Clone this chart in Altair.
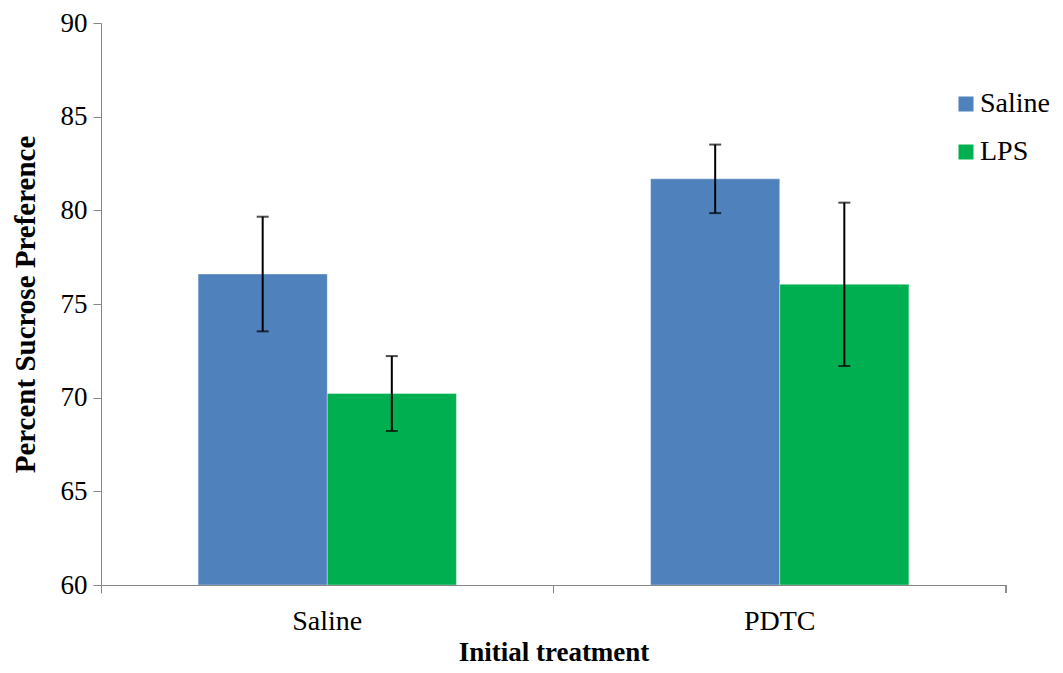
import altair as alt
import pandas as pd

groups = ["Saline", "Saline", "PDTC", "PDTC"]
series = ["Saline", "LPS", "Saline", "LPS"]
values = [76.6, 70.22, 81.68, 76.05]
errors = [3.06, 2.0, 1.83, 4.36]

group_order = ["Saline", "PDTC"]
series_order = ["Saline", "LPS"]
colors = ["#4F81BD", "#00B050"]

df = pd.DataFrame({"group": groups, "series": series, "value": values, "err": errors})
df["lo"] = df["value"] - df["err"]
df["hi"] = df["value"] + df["err"]

W, H = 905, 562
FONT = "Liberation Serif"

x_enc = alt.X("group:N", sort=group_order,
              scale=alt.Scale(paddingInner=0, paddingOuter=0),
              axis=alt.Axis(title="Initial treatment", labelAngle=0, bandPosition=0,
                            labelFontSize=28, labelFont=FONT, labelColor="black",
                            titleFontSize=27, titleFont=FONT, titleFontWeight="bold",
                            titleColor="black", titlePadding=4,
                            domainColor="#868686", tickColor="#868686", tickSize=8,
                            labelPadding=14))
xoff = alt.XOffset("series:N", sort=series_order,
                   scale=alt.Scale(paddingInner=0, paddingOuter=0.752))

y_scale = alt.Scale(domain=[60, 90], nice=False, zero=False)

bars = alt.Chart(df).mark_bar(clip=True, stroke="white", strokeWidth=0.6, strokeOpacity=0.6).encode(
    x=x_enc,
    xOffset=xoff,
    y=alt.Y("value:Q", scale=y_scale,
            axis=alt.Axis(title="Percent Sucrose Preference", values=[60, 65, 70, 75, 80, 85, 90],
                          grid=False, labelFontSize=27, labelFont=FONT, labelColor="black",
                          titleFontSize=29, titleFont=FONT, titleFontWeight="bold",
                          titleColor="black", titlePadding=20,
                          domainColor="#868686", tickColor="#868686", tickSize=8,
                          labelPadding=6)),
    y2=alt.datum(60),
    color=alt.Color("series:N", sort=series_order,
                    scale=alt.Scale(domain=series_order, range=colors),
                    legend=alt.Legend(title=None, orient="none", legendX=851, legendY=67,
                                      symbolType="square", symbolSize=225,
                                      symbolStrokeWidth=0, labelFont=FONT,
                                      labelFontSize=28, labelColor="black",
                                      rowPadding=20, labelOffset=0)),
)

rules = alt.Chart(df).mark_rule(color="black", strokeWidth=2).encode(
    x=alt.X("group:N", sort=group_order), xOffset=xoff,
    y=alt.Y("lo:Q", scale=y_scale), y2="hi:Q",
)
cap_lo = alt.Chart(df).mark_tick(color="black", thickness=2, size=12).encode(
    x=alt.X("group:N", sort=group_order), xOffset=xoff,
    y=alt.Y("lo:Q", scale=y_scale),
)
cap_hi = alt.Chart(df).mark_tick(color="black", thickness=2, size=12).encode(
    x=alt.X("group:N", sort=group_order), xOffset=xoff,
    y=alt.Y("hi:Q", scale=y_scale),
)
end_tick = alt.Chart(df).mark_rule(color="#868686", strokeWidth=1).encode(
    x=alt.value(W), y=alt.value(H), y2=alt.value(H + 8)
)

chart = alt.layer(bars, rules, cap_lo, cap_hi, end_tick).properties(
    width=W, height=H,
    background="white",
    autosize=alt.AutoSizeParams(type="none"),
    padding={"left": 93, "top": 15, "right": 49, "bottom": 80},
).configure_view(stroke=None)

chart.save("out.html", embed_options={"renderer": "svg", "actions": False})
